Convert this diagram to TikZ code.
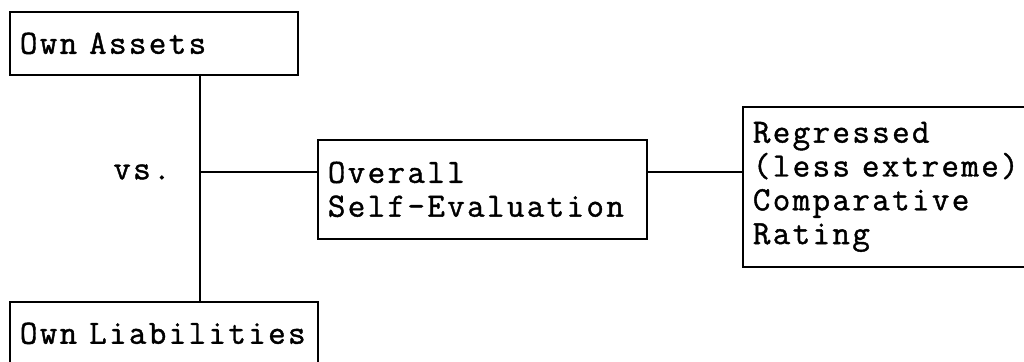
\documentclass[tikz,border=0pt]{standalone}
\usepackage{fontspec}
\newfontfamily\courlike{Latin Modern Mono}[FakeBold=1.2,LetterSpace=7]
\newcommand\gapchar{\hspace{6pt}}
\begin{document}
\begin{tikzpicture}[x=0.5pt,y=-0.5pt,
  every node/.style={font=\courlike\fontsize{17pt}{16.9pt}\selectfont},
  box/.style={draw, line width=0.9pt, anchor=north west, align=left, inner xsep=5pt, inner ysep=0pt},
  conn/.style={line width=0.9pt}]
\useasboundingbox (0,0) rectangle (1024,362);
\node[box, text width=134pt, minimum height=31.5pt] (assets) at (9,11) {Own\gapchar Assets};
\node[box, text width=144pt, minimum height=31.5pt] (liab) at (9,301) {Own\gapchar Liabilities};
\node[box, text width=154.5pt, minimum height=49.5pt] (overall) at (317,139) {Overall\\Self-Evaluation};
\node[box, text width=150pt, minimum height=80pt] (reg) at (742,106) {Regressed\\(less\gapchar extreme)\\Comparative\\Rating};
\node[inner sep=0pt] (vs) at (142,172) {vs.};
\coordinate (top) at (200,74);
\coordinate (junc) at (200,172);
\coordinate (bot) at (200,301);
\draw[conn] (top) -- (bot);
\draw[conn] (junc) -- (junc -| overall.west);
\draw[conn] (overall.east |- junc) -- (reg.west |- junc);
\end{tikzpicture}
\end{document}
